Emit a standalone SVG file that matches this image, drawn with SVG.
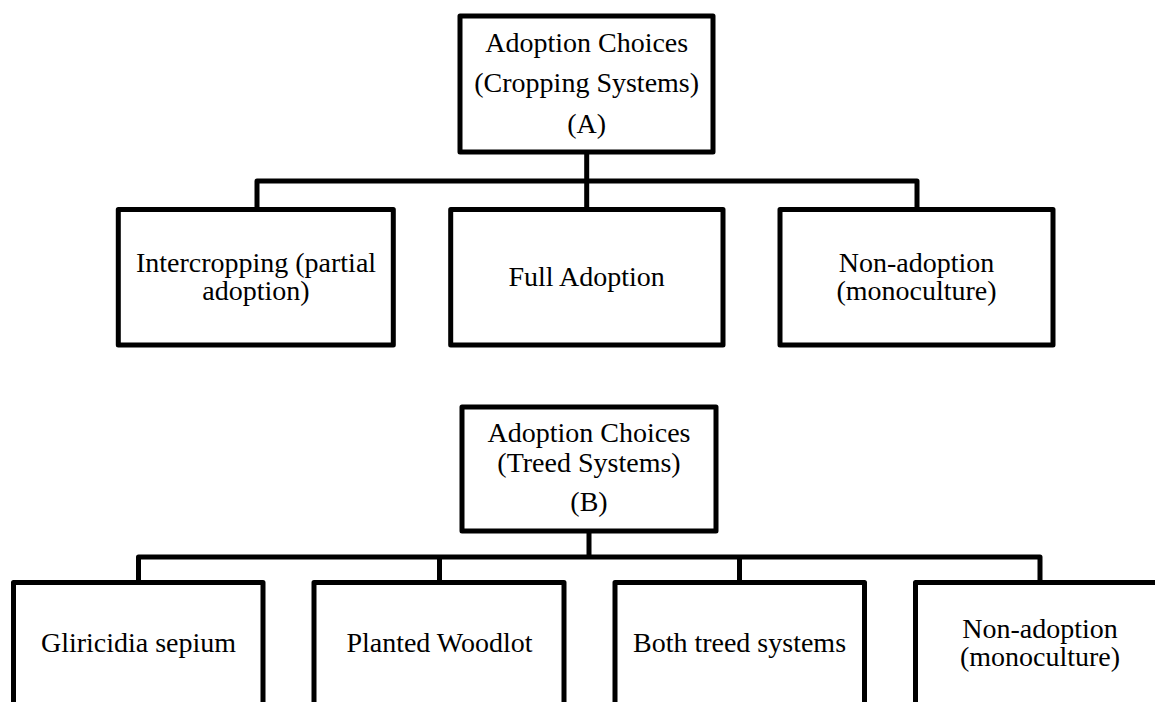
<svg xmlns="http://www.w3.org/2000/svg" width="1155" height="702" viewBox="0 0 1155 702">
<style>
.box{fill:#fff;stroke:#000;stroke-width:5;stroke-linejoin:round}
.t{font-family:"Liberation Serif","Times New Roman",serif;font-size:28px;fill:#000;text-anchor:middle}
.c{fill:none;stroke:#000;stroke-width:5;stroke-linejoin:round;stroke-linecap:square}
</style>
<rect width="1155" height="702" fill="#fff"/>
<g id="connectors">
<path class="c" d="M586.7,152 V209 M257,209 V181 H917 V209"/>
<path class="c" d="M589,531 V557 M138.5,582 V557 H1040 V582 M439.5,557 V582 M739.5,557 V582"/>
</g>
<g id="nodeA">
<rect class="box" x="460" y="16" width="253" height="136"/>
<text class="t" x="586.7" y="52">Adoption Choices</text>
<text class="t" x="586.7" y="92">(Cropping Systems)</text>
<text class="t" x="586.7" y="133">(A)</text>
</g>
<g id="nodeA1">
<rect class="box" x="118.3" y="209.5" width="275" height="135.5"/>
<text class="t" x="256" y="272">Intercropping (partial</text>
<text class="t" x="256" y="300">adoption)</text>
</g>
<g id="nodeA2">
<rect class="box" x="450.7" y="209.5" width="272.3" height="135.5"/>
<text class="t" x="586.7" y="286">Full Adoption</text>
</g>
<g id="nodeA3">
<rect class="box" x="780" y="209.5" width="273" height="135.5"/>
<text class="t" x="916.5" y="272">Non-adoption</text>
<text class="t" x="916.5" y="300">(monoculture)</text>
</g>
<g id="nodeB">
<rect class="box" x="462" y="407" width="254" height="124"/>
<text class="t" x="589" y="442">Adoption Choices</text>
<text class="t" x="589" y="472">(Treed Systems)</text>
<text class="t" x="589" y="511">(B)</text>
</g>
<g id="nodeB1">
<rect class="box" x="13.5" y="582.5" width="249.5" height="140"/>
<text class="t" x="138.5" y="652">Gliricidia sepium</text>
</g>
<g id="nodeB2">
<rect class="box" x="314" y="582.5" width="250" height="140"/>
<text class="t" x="439.5" y="652">Planted Woodlot</text>
</g>
<g id="nodeB3">
<rect class="box" x="615" y="582.5" width="249.5" height="140"/>
<text class="t" x="739.5" y="652">Both treed systems</text>
</g>
<g id="nodeB4">
<rect class="box" x="915.5" y="582.5" width="250" height="140"/>
<text class="t" x="1040" y="638">Non-adoption</text>
<text class="t" x="1040" y="666">(monoculture)</text>
</g>
</svg>
